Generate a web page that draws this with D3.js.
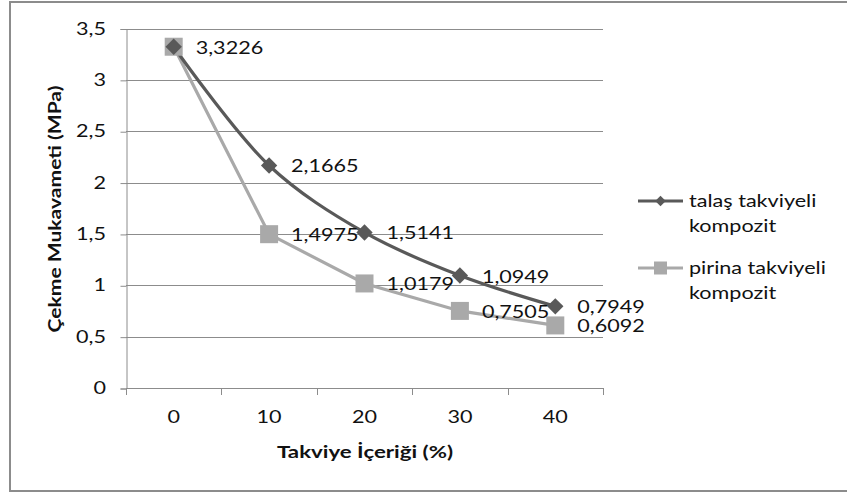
<!DOCTYPE html>
<html>
<head>
<meta charset="utf-8">
<script src="https://cdn.jsdelivr.net/npm/d3@7"></script>
<style>
  body { margin: 0; background: #fff; }
  text { font-family: Lato, "Open Sans", sans-serif; fill: #111; }
</style>
</head>
<body>
<svg id="svg" width="847" height="495"></svg>
<script>
var categories = [0, 10, 20, 30, 40];
var talas = [3.3226, 2.1665, 1.5141, 1.0949, 0.7949];
var pirina = [3.3226, 1.4975, 1.0179, 0.7505, 0.6092];
var yTicks = [0, 0.5, 1, 1.5, 2, 2.5, 3, 3.5];
var seriesNames = ['talaş takviyeli kompozit', 'pirina takviyeli kompozit'];

var svg = d3.select('#svg'),
    sx = 1.27,              // the reference text looks stretched sideways
    fs = 17,
    gridColor = '#8c8c8c',
    dark = '#595959',
    light = '#a9a9a9';

var x = d3.scaleBand().domain(categories).range([126, 603]),
    y = d3.scaleLinear().domain([0, 3.5]).range([388, 28.5]);

function comma(v) { return String(v).replace('.', ','); }

// stretched text helper
function label(g, tx, ty, str, opts) {
  opts = opts || {};
  return g.append('text')
    .attr('transform', 'translate(' + tx + ',' + ty + ') ' + (opts.rotate ? 'rotate(' + opts.rotate + ') ' : '') + 'scale(' + (opts.sx || sx) + ',1)')
    .attr('text-anchor', opts.anchor || 'start')
    .style('font-size', (opts.size || fs) + 'px')
    .style('font-weight', opts.bold ? 'bold' : 'normal')
    .text(str);
}

// outer frame
svg.append('rect')
  .attr('x', 10).attr('y', 2).attr('width', 850).attr('height', 489)
  .attr('fill', 'none').attr('stroke', gridColor).attr('stroke-width', 2);

// gridlines
svg.append('g').selectAll('line').data(yTicks.slice(1)).enter().append('line')
  .attr('x1', 126).attr('x2', 603)
  .attr('y1', function (d) { return Math.round(y(d)) + 0.5; })
  .attr('y2', function (d) { return Math.round(y(d)) + 0.5; })
  .attr('stroke', gridColor);

// y axis
var yAxis = svg.append('g').attr('transform', 'translate(126.5,0.5)')
  .call(d3.axisLeft(y).tickValues(yTicks).tickSize(6).tickPadding(14).tickFormat(comma));
yAxis.selectAll('path, line').attr('stroke', gridColor);
yAxis.selectAll('text').remove();
yTicks.forEach(function (t) {
  label(svg, 106, y(t) + 6, comma(t), { anchor: 'end' });
});

// x axis
svg.append('line').attr('x1', 126).attr('x2', 603).attr('y1', 388.5).attr('y2', 388.5).attr('stroke', gridColor);
var bounds = categories.map(function (c) { return x(c); }).concat([x.range()[1]]);
svg.append('g').selectAll('line').data(bounds).enter().append('line')
  .attr('x1', function (d) { return Math.round(d) + 0.5; })
  .attr('x2', function (d) { return Math.round(d) + 0.5; })
  .attr('y1', 388).attr('y2', 395)
  .attr('stroke', gridColor);
categories.forEach(function (c) {
  label(svg, x(c) + x.bandwidth() / 2, 423, String(c), { anchor: 'middle' });
});

// axis titles
label(svg, 365, 458, 'Takviye İçeriği (%)', { anchor: 'middle', bold: true, sx: 1.31 });
label(svg, 61, 209, 'Çekme Mukavameti (MPa)', { anchor: 'middle', bold: true, rotate: -90, sx: 1.24 });

// lines
function cx(d, i) { return x(categories[i]) + x.bandwidth() / 2; }
var lineSmooth = d3.line().x(cx).y(function (d) { return y(d); }).curve(d3.curveCatmullRom.alpha(0.5));
var lineStraight = d3.line().x(cx).y(function (d) { return y(d); });

svg.append('path').datum(pirina).attr('d', lineStraight)
  .attr('fill', 'none').attr('stroke', light).attr('stroke-width', 3.2);
svg.append('path').datum(talas).attr('d', lineSmooth)
  .attr('fill', 'none').attr('stroke', dark).attr('stroke-width', 3.2);

// markers
var diamond = d3.symbol().type(d3.symbolDiamond2).size(170);
svg.append('g').selectAll('rect').data(pirina).enter().append('rect')
  .attr('x', function (d, i) { return cx(d, i) - 9; })
  .attr('y', function (d) { return y(d) - 9; })
  .attr('width', 18).attr('height', 18)
  .attr('fill', light);
svg.append('g').selectAll('path').data(talas).enter().append('path')
  .attr('d', diamond)
  .attr('transform', function (d, i) { return 'translate(' + cx(d, i) + ',' + y(d) + ')'; })
  .attr('fill', dark);

// data labels
var dl = svg.append('g');
pirina.forEach(function (v, i) {
  label(dl, cx(v, i) + 22, y(v) + 7, v.toFixed(4).replace('.', ','));
});
talas.forEach(function (v, i) {
  if (i === 0) return;
  label(dl, cx(v, i) + 22, y(v) + 7, v.toFixed(4).replace('.', ','));
});

// legend
var legend = svg.append('g');
[[dark, 201, 'diamond'], [light, 268, 'square']].forEach(function (s, k) {
  legend.append('line').attr('x1', 638).attr('x2', 683).attr('y1', s[1]).attr('y2', s[1])
    .attr('stroke', s[0]).attr('stroke-width', 3.2);
  if (s[2] === 'diamond') {
    legend.append('path').attr('d', d3.symbol().type(d3.symbolDiamond2).size(70))
      .attr('transform', 'translate(660.5,' + s[1] + ')').attr('fill', s[0]);
  } else {
    legend.append('rect').attr('x', 654).attr('y', s[1] - 6.5).attr('width', 13).attr('height', 13).attr('fill', s[0]);
  }
  var words = seriesNames[k].split(' ');
  label(legend, 689, s[1] + 6, words[0] + ' ' + words[1]);
  label(legend, 689, s[1] + 31, words[2]);
});
</script>
</body>
</html>
